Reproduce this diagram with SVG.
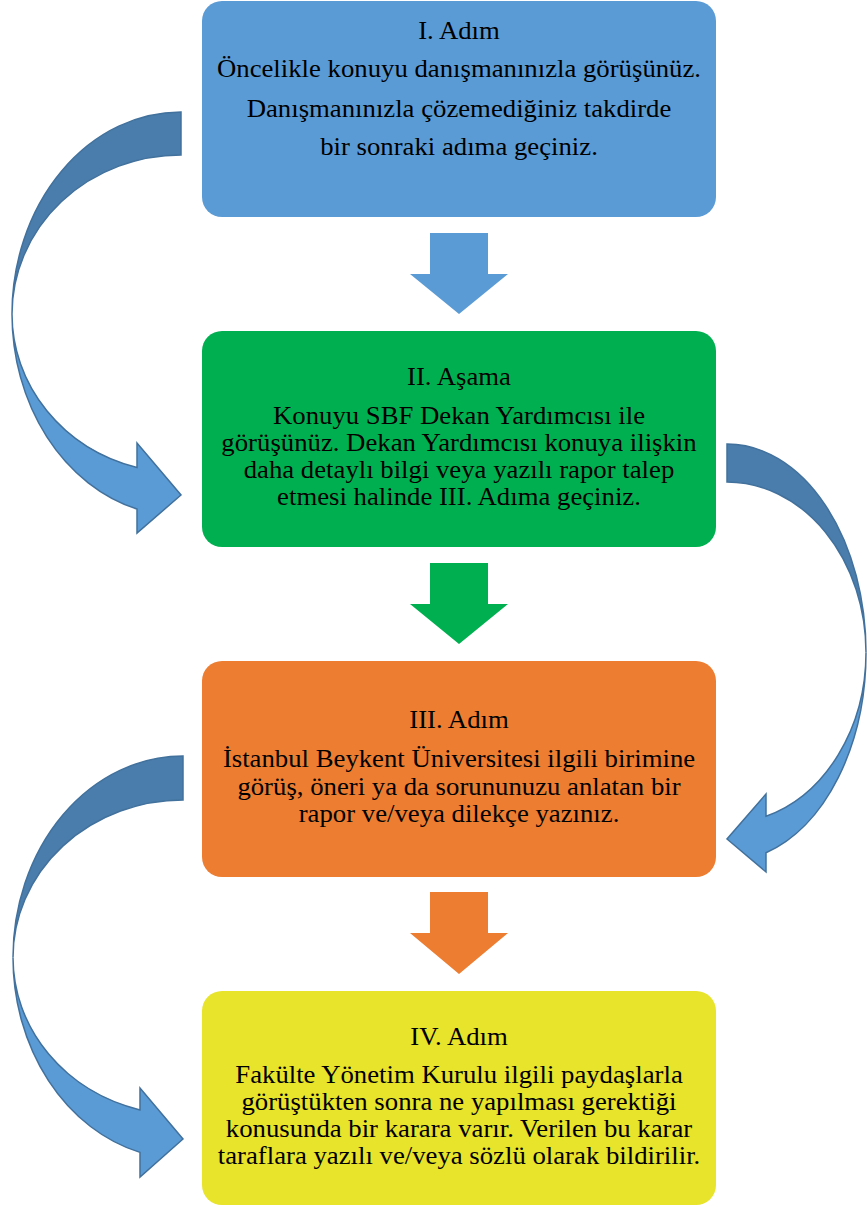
<svg xmlns="http://www.w3.org/2000/svg" width="867" height="1207" viewBox="0 0 867 1207">
<style>
.t{font-family:"Liberation Serif","Times New Roman",serif;font-size:25px;fill:#000;text-anchor:middle}
.box{stroke:none}
.front{fill:#5B9BD5;stroke:#41719C;stroke-width:1.5;stroke-linejoin:miter}
.back{fill:#4A7DAB;stroke:#41719C;stroke-width:1.5}
</style>
<rect width="867" height="1207" fill="#fff"/>
<g id="connectors">
  <g id="curve1">
    <path class="back" d="M181,112 A169,202 0 0 0 12,314 A169,159 0 0 1 181,155 Z"/>
    <path class="front" d="M12,314 A169,202 0 0 0 137,509 L137,533 L181,495 L137,443 L137,467.5 A169,159 0 0 1 12,314 Z"/>
  </g>
  <g id="curve2">
    <path class="back" d="M727,444 A139,208.6 0 0 1 866,652.6 A139,170.6 0 0 0 727,482 Z"/>
    <path class="front" d="M866,652.6 A139,208.6 0 0 1 766,852.8 L766,872 L727,839 L766,794 L766,816.3 A139,170.6 0 0 0 866,652.6 Z"/>
  </g>
  <g id="curve3">
    <path class="back" d="M183,756 A170,201.5 0 0 0 13,957.5 A170,157.5 0 0 1 183,800 Z"/>
    <path class="front" d="M13,957.5 A170,201.5 0 0 0 140,1152.4 L140,1177 L183,1139 L140,1088 L140,1109.9 A170,157.5 0 0 1 13,957.5 Z"/>
  </g>
  <path id="down1" fill="#5B9BD5" d="M430,233 L488,233 L488,274 L508,274 L459,314 L410,274 L430,274 Z"/>
  <path id="down2" fill="#00B050" d="M430,563 L488,563 L488,604 L508,604 L459,644 L410,604 L430,604 Z"/>
  <path id="down3" fill="#ED7D31" d="M430,892 L488,892 L488,933 L508,933 L459,974 L410,933 L430,933 Z"/>
</g>
<g id="node1">
  <rect class="box" x="202" y="1" width="514" height="216" rx="20" fill="#5B9BD5"/>
  <g transform="translate(459,0) scale(1.07,1)">
    <text class="t" x="0" y="39">I. Adım</text>
    <text class="t" x="0" y="77">Öncelikle konuyu danışmanınızla görüşünüz.</text>
    <text class="t" x="0" y="117">Danışmanınızla çözemediğiniz takdirde</text>
    <text class="t" x="0" y="155">bir sonraki adıma geçiniz.</text>
  </g>
</g>
<g id="node2">
  <rect class="box" x="202" y="331" width="514" height="216" rx="20" fill="#00B050"/>
  <g transform="translate(459,0) scale(1.07,1)">
    <text class="t" x="0" y="385">II. Aşama</text>
    <text class="t" x="0" y="424">Konuyu SBF Dekan Yardımcısı ile</text>
    <text class="t" x="0" y="451">görüşünüz. Dekan Yardımcısı konuya ilişkin</text>
    <text class="t" x="0" y="478">daha detaylı bilgi veya yazılı rapor talep</text>
    <text class="t" x="0" y="505">etmesi halinde III. Adıma geçiniz.</text>
  </g>
</g>
<g id="node3">
  <rect class="box" x="202" y="661" width="514" height="216" rx="20" fill="#ED7D31"/>
  <g transform="translate(459,0) scale(1.07,1)">
    <text class="t" x="0" y="728">III. Adım</text>
    <text class="t" x="0" y="767">İstanbul Beykent Üniversitesi ilgili birimine</text>
    <text class="t" x="0" y="795">görüş, öneri ya da sorununuzu anlatan bir</text>
    <text class="t" x="0" y="822">rapor ve/veya dilekçe yazınız.</text>
  </g>
</g>
<g id="node4">
  <rect class="box" x="202" y="991" width="514" height="214" rx="20" fill="#E8E32B"/>
  <g transform="translate(459,0) scale(1.07,1)">
    <text class="t" x="0" y="1045">IV. Adım</text>
    <text class="t" x="0" y="1083">Fakülte Yönetim Kurulu ilgili paydaşlarla</text>
    <text class="t" x="0" y="1110">görüştükten sonra ne yapılması gerektiği</text>
    <text class="t" x="0" y="1137">konusunda bir karara varır. Verilen bu karar</text>
    <text class="t" x="0" y="1164">taraflara yazılı ve/veya sözlü olarak bildirilir.</text>
  </g>
</g>
</svg>
